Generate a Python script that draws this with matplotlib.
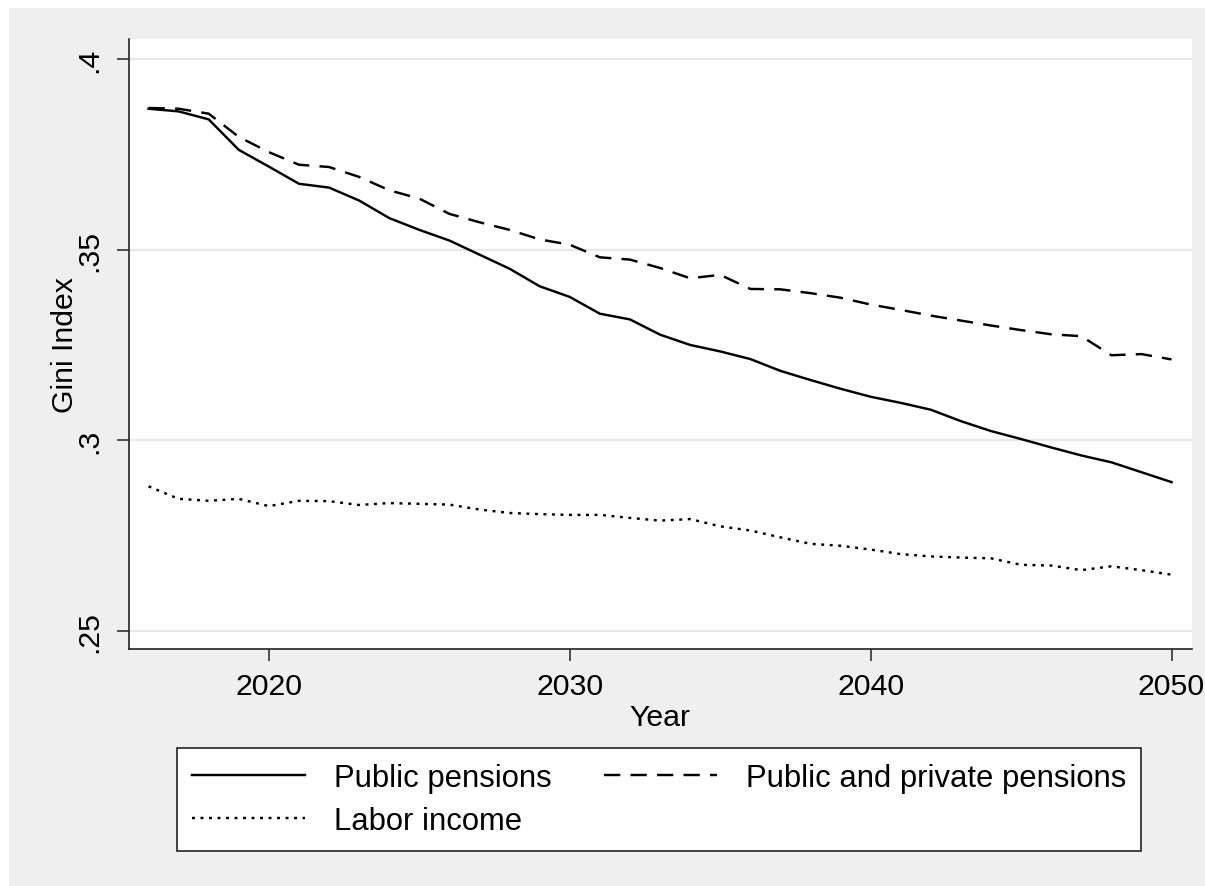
import numpy as np
import matplotlib
matplotlib.use("Agg")
import matplotlib.pyplot as plt
from matplotlib.patches import Rectangle

plt.rcParams['font.family'] = ['Liberation Sans', 'DejaVu Sans']

# ---- data
years = list(range(2016, 2051))

public = [0.3870, 0.3863, 0.3842, 0.3762, 0.3718, 0.3673, 0.3663, 0.3629,
          0.3583, 0.3552, 0.3524, 0.3487, 0.3450, 0.3404, 0.3376, 0.3332,
          0.3317, 0.3277, 0.3250, 0.3233, 0.3213, 0.3182, 0.3158, 0.3135,
          0.3114, 0.3098, 0.3080, 0.3050, 0.3024, 0.3003, 0.2981, 0.2960,
          0.2942, 0.2916, 0.2890]

pub_priv = [0.3872, 0.3870, 0.3857, 0.3796, 0.3756, 0.3723, 0.3717, 0.3691,
            0.3656, 0.3634, 0.3594, 0.3572, 0.3552, 0.3527, 0.3513, 0.3480,
            0.3474, 0.3452, 0.3425, 0.3434, 0.3397, 0.3396, 0.3386, 0.3374,
            0.3356, 0.3342, 0.3327, 0.3314, 0.3301, 0.3289, 0.3278, 0.3273,
            0.3223, 0.3226, 0.3212]

labor = [0.2879, 0.2846, 0.2841, 0.2846, 0.2827, 0.2841, 0.2840, 0.2830,
         0.2835, 0.2833, 0.2831, 0.2818, 0.2809, 0.2806, 0.2804, 0.2804,
         0.2796, 0.2789, 0.2793, 0.2774, 0.2763, 0.2745, 0.2728, 0.2723,
         0.2713, 0.2701, 0.2695, 0.2692, 0.2690, 0.2673, 0.2671, 0.2659,
         0.2669, 0.2659, 0.2647]

yticks = [0.25, 0.30, 0.35, 0.40]
ytick_labels = ['.25', '.3', '.35', '.4']
xticks = [2020, 2030, 2040, 2050]

FS = 21.8
bg = '#efefef'
LW = 1.75

fig = plt.figure(figsize=(12.05, 8.87), dpi=100, facecolor='white')
# stata-like grey outer region
fig.patches.append(Rectangle((9 / 1205, 0), 1, 1 - 9 / 887, transform=fig.transFigure,
                             facecolor=bg, edgecolor='none', zorder=-10))

ax = fig.add_axes([128.7 / 1205, 1 - 650 / 887, (1191.7 - 128.7) / 1205, 610 / 887])
ax.set_facecolor('white')

ax.plot(years, public, color='black', lw=LW, label='Public pensions')
ax.plot(years, pub_priv, color='black', lw=LW, linestyle=(0, (6.7, 4.2)),
        label='Public and private pensions')
ax.plot(years, labor, color='black', lw=LW, linestyle=(0, (1.2, 2.3)), label='Labor income')

ax.set_xlim(2015.34, 2050.67)
ax.set_ylim(0.2452, 0.4053)

ax.set_yticks(yticks)
ax.set_yticklabels(ytick_labels, rotation=90, va='center')
ax.set_xticks(xticks)
ax.tick_params(axis='both', labelsize=FS, length=8.5, width=1.1, color='#222222', direction='out')
ax.tick_params(axis='y', pad=10)
ax.tick_params(axis='x', pad=8)

ax.grid(axis='y', color='#e8e8e8', lw=1.6)
ax.set_axisbelow(True)

for s in ['top', 'right']:
    ax.spines[s].set_visible(False)
for s in ['left', 'bottom']:
    ax.spines[s].set_color('#222222')
    ax.spines[s].set_linewidth(1.2)

ax.set_xlabel('Year', fontsize=FS, labelpad=2)
ax.set_ylabel('Gini Index', fontsize=FS, labelpad=-3)

h, l = ax.get_legend_handles_labels()
order = [0, 2, 1]
leg = fig.legend([h[i] for i in order], [l[i] for i in order], ncol=2,
                 loc='center', bbox_to_anchor=(659.4 / 1205, 1 - 800.4 / 887),
                 fontsize=22.3, frameon=True, fancybox=False, shadow=False,
                 handlelength=3.65, handletextpad=0.93, columnspacing=1.7,
                 labelspacing=0.44, borderpad=0.48)
leg.get_frame().set_edgecolor('#222222')
leg.get_frame().set_linewidth(1.2)
leg.get_frame().set_facecolor('white')
leg.get_frame().set_alpha(1)

fig.savefig('out.png', dpi=100, facecolor=fig.get_facecolor())
